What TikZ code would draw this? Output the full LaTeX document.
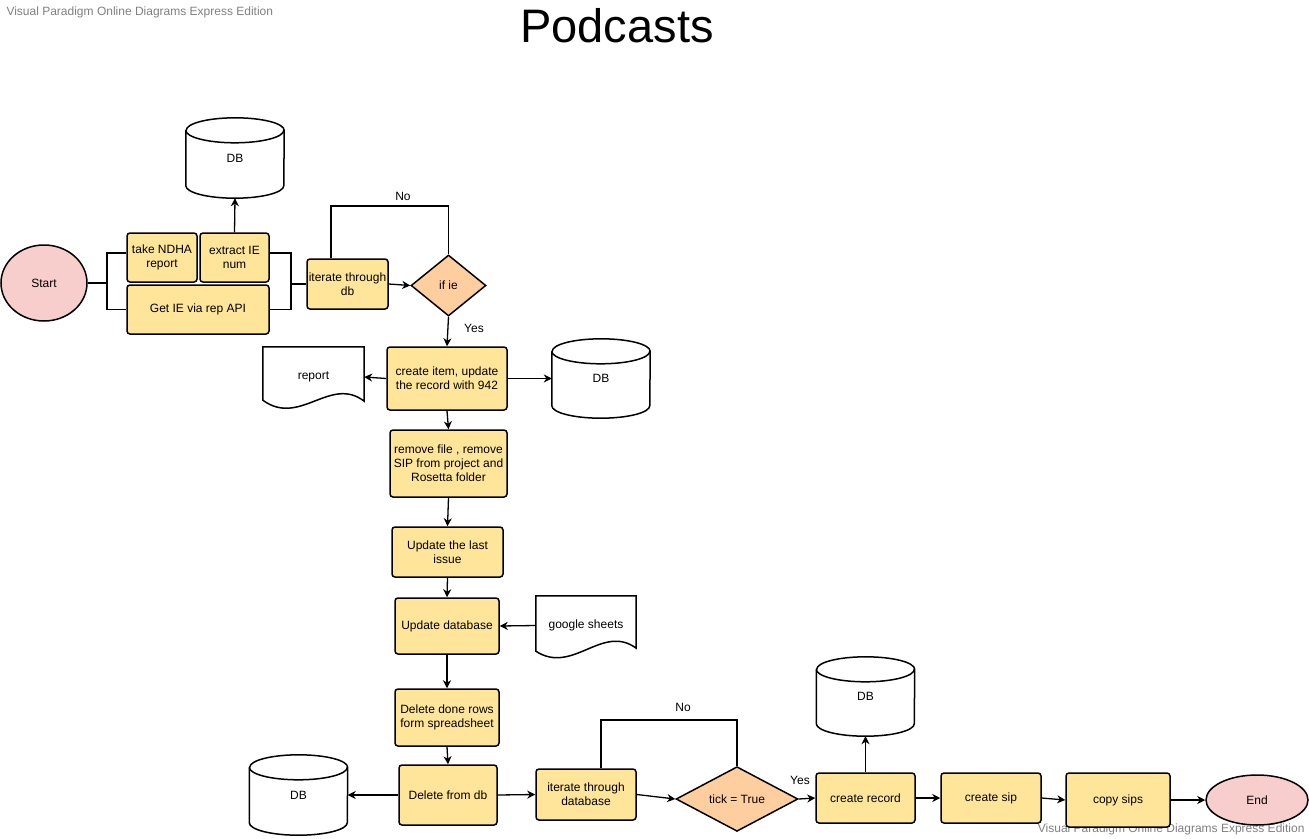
\documentclass[tikz,border=0pt]{standalone}
\usepackage{fontspec}
\setmainfont{Liberation Sans}
\usetikzlibrary{shapes.geometric, calc, arrows.meta}

\definecolor{boxfill}{HTML}{FFE599}
\definecolor{decfill}{HTML}{FFCE9F}
\definecolor{endfill}{HTML}{F8CECC}
\definecolor{markgray}{HTML}{808080}

\begin{document}
\begin{tikzpicture}[x=1pt, y=-1pt,
		every node/.style={font=\fontsize{12}{14}\selectfont, align=center},
		box/.style={draw, fill=boxfill, rounded corners=3pt, line width=1.5pt, inner sep=0pt},
		decision/.style={draw, diamond, fill=decfill, line width=1.5pt, inner sep=0pt},
		terminal/.style={draw, ellipse, fill=endfill, line width=1.5pt, inner sep=0pt},
		store/.style={inner sep=0pt},
		paper/.style={inner sep=0pt},
		tag/.style={font=\fontsize{11}{13}\selectfont},
		link/.style={line width=1.3pt}]

			\def\cap{12.5}
			\def\dbshape#1{
				\draw ($(#1.north west)+(0,\cap)$) -- ($(#1.south west)+(0,-\cap)$)
					arc[start angle=180, end angle=360, x radius=49pt, y radius=\cap pt]
					-- ($(#1.north east)+(0,\cap)$)
					arc[start angle=0, end angle=180, x radius=49pt, y radius=\cap pt];
				\draw ($(#1.north west)+(0,\cap)$) arc[start angle=180, end angle=360, x radius=49pt, y radius=\cap pt];
			}

			\useasboundingbox (0,0) rectangle (1309,838);

			\node[anchor=base, font=\fontsize{47}{50}\selectfont] (title) at (617,42) {Podcasts};
			\node[anchor=west, text=markgray] (markl) at (3,12) {Visual Paradigm Online Diagrams Express Edition};
			\node[anchor=east, text=markgray] (markr) at (1308,829) {Visual Paradigm Online Diagrams Express Edition};

			\begin{scope}
				\node[terminal, minimum width=86, minimum height=76] (start) at (44,283) {Start};
				\node[box, minimum width=70, minimum height=49] (ndha) at (162,257.5) {take NDHA\\report};
				\node[box, minimum width=69, minimum height=49] (extract) at (234.5,257.5) {extract IE\\num};
				\node[box, minimum width=142, minimum height=49] (getie) at (198,309.5) {Get IE via rep API};
				\node[store, minimum width=98, minimum height=80] (dbtop) at (235,158) {DB};
				\node[box, minimum width=81, minimum height=50] (iterdb) at (347.5,284) {iterate through\\db};
				\node[decision, minimum width=75, minimum height=61] (ifie) at (448.5,285.5) {if ie};
			\end{scope}

			\begin{scope}
				\node[box, minimum width=120, minimum height=63] (item) at (447,378.5) {create item, update\\the record with 942};
				\node[paper, minimum width=101, minimum height=60] (report) at (313.5,377) {report};
				\node[store, minimum width=98, minimum height=79] (dbitem) at (601,378.5) {DB};
				\node[box, minimum width=117, minimum height=67] (remove) at (448.5,463.5) {remove file , remove\\SIP from project and\\Rosetta folder};
				\node[box, minimum width=111, minimum height=50] (lastissue) at (447.5,552) {Update the last\\issue};
				\node[box, minimum width=104, minimum height=56] (upddb) at (447,626) {Update database};
				\node[paper, minimum width=100, minimum height=59] (sheets) at (586,625.5) {google sheets};
				\node[box, minimum width=104, minimum height=57] (deldone) at (447,717.5) {Delete done rows\\form spreadsheet};
			\end{scope}

			\begin{scope}
				\node[box, minimum width=98, minimum height=60] (deldb) at (448,795) {Delete from db};
				\node[store, minimum width=98, minimum height=80] (dbleft) at (298.5,795) {DB};
				\node[box, minimum width=100, minimum height=51] (iterdata) at (586,794.5) {iterate through\\database};
				\node[decision, minimum width=122, minimum height=60] (tick) at (737,799) {tick = True};
				\node[box, minimum width=99, minimum height=50] (record) at (865.5,798) {create record};
				\node[store, minimum width=98, minimum height=79] (dbright) at (865.5,696.5) {DB};
				\node[box, minimum width=100, minimum height=50] (sip) at (991,798) {create sip};
				\node[box, minimum width=104, minimum height=54] (copy) at (1118,800) {copy sips};
				\node[terminal, minimum width=102, minimum height=50] (end) at (1257,800) {End};
			\end{scope}

			\begin{scope}[line width=1.5pt]
				\dbshape{dbtop}
				\dbshape{dbitem}
				\dbshape{dbleft}
				\dbshape{dbright}
				\draw (report.north west) -- (report.north east) -- ($(report.south east)+(0,-6)$) .. controls ($(report.south east)+(-34,-32)$) and ($(report.south west)+(37,20)$) .. ($(report.south west)+(0,-7)$) -- cycle;
				\draw (sheets.north west) -- (sheets.north east) -- ($(sheets.south east)+(0,-7)$) .. controls ($(sheets.south east)+(-34,-32)$) and ($(sheets.south west)+(37,20)$) .. ($(sheets.south west)+(0,-4)$) -- cycle;
			\end{scope}

			\begin{scope}[line width=1.8pt]
				\coordinate (splitl) at (107,283);
				\coordinate (splitr) at (291,284);
				\draw (start.east) -- (splitl);
				\draw ([yshift=4.5pt]ndha.west) -| (splitl) |- (getie.west);
				\draw ([yshift=4.5pt]extract.east) -| (splitr) |- (getie.east);
				\draw (splitr) -- (iterdb.west);
				\draw ([xshift=-16.5pt]iterdb.north) |- ++(0,-52) -| (ifie.north);
				\draw ([xshift=15pt]iterdata.north) |- ++(0,-48) -| (tick.north);
			\end{scope}

			\begin{scope}[link, -{Stealth[length=8pt, width=8pt, inset=2.5pt]}]
				\draw (extract.north) -- (dbtop.south);
				\draw (iterdb.east) -- (ifie.west);
				\draw (ifie.south) -- (item.north);
				\draw (item.west) -- (report.east);
				\draw (item.east) -- (dbitem.west);
				\draw (item.south) -- (remove.north);
				\draw (remove.south) -- (lastissue.north);
				\draw (lastissue.south) -- (upddb.north);
				\draw (sheets.west) -- (upddb.east);
				\draw (upddb.south) -- (deldone.north);
				\draw (deldone.south) -- (deldb.north);
				\draw (deldb.west) -- (dbleft.east);
				\draw (deldb.east) -- (iterdata.west);
				\draw (iterdata.east) -- (tick.west);
				\draw (tick.east) -- (record.west);
				\draw (record.north) -- (dbright.south);
				\draw (record.east) -- (sip.west);
				\draw (sip.east) -- (copy.west);
				\draw (copy.east) -- (end.west);
			\end{scope}

			\begin{scope}[tag]
				\node (no1) at (403,196) {No};
				\node (yes1) at (474,328) {Yes};
				\node (no2) at (683,707) {No};
				\node (yes2) at (800,780) {Yes};
			\end{scope}
		\end{tikzpicture}
\end{document}
